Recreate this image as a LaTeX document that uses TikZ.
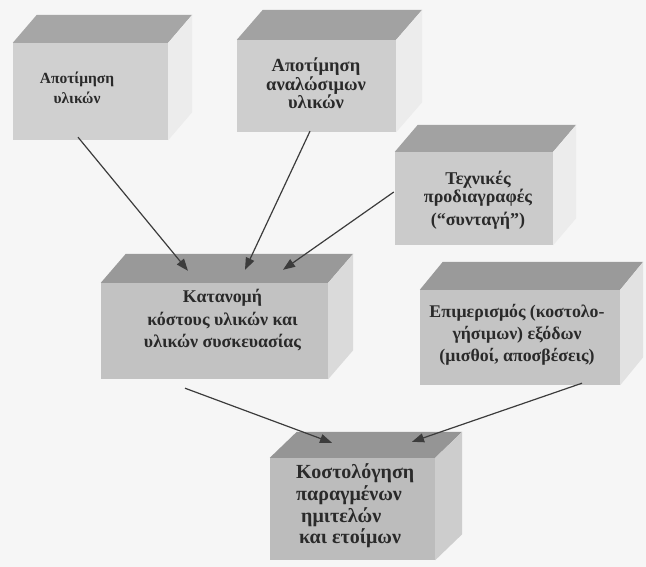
\documentclass[tikz,border=0pt]{standalone}
\usepackage{fontspec}
\setmainfont{Liberation Serif}
\usetikzlibrary{arrows.meta,calc}

\definecolor{paper}{HTML}{F6F6F6}
\definecolor{ink}{HTML}{2A2A2A}
\definecolor{wire}{HTML}{3C3C3C}
% face shades
\definecolor{frontA}{HTML}{D0D0D0}
\definecolor{frontB}{HTML}{CECECE}
\definecolor{frontC}{HTML}{CBCBCB}
\definecolor{frontD}{HTML}{C2C2C2}
\definecolor{frontE}{HTML}{C4C4C4}
\definecolor{frontF}{HTML}{BCBCBC}
\definecolor{topA}{HTML}{A6A6A6}
\definecolor{topB}{HTML}{A2A2A2}
\definecolor{topD}{HTML}{999999}
\definecolor{topE}{HTML}{9A9A9A}
\definecolor{topF}{HTML}{959595}
\definecolor{sideA}{HTML}{ECECEC}
\definecolor{sideD}{HTML}{DADADA}
\definecolor{sideE}{HTML}{E2E2E2}
\definecolor{sideF}{HTML}{CDCDCD}

% draws the top and right faces behind a front-face node
\newcommand\cubefaces[5]{%
  \fill[#4] (#1.north west) -- ++(#2,#3) -- ($(#1.north east)+(#2,#3)$) -- (#1.north east) -- cycle;
  \fill[#5] (#1.north east) -- ++(#2,#3) -- ($(#1.south east)+(#2,#3)$) -- (#1.south east) -- cycle;
}

\tikzset{
  front/.style={fill=#1, draw=none, inner sep=0pt},
  caption/.style={text=ink, align=center, inner sep=0pt},
  flow/.style={draw=wire, line width=1.2pt, -{Triangle[length=12pt,width=9pt]}},
}

\begin{document}
\begin{tikzpicture}[x=1pt,y=-1pt]
\fill[paper] (0,0) rectangle (646,567);
\useasboundingbox (0,0) rectangle (646,567);

% front faces
\node[front=frontA, minimum width=155pt, minimum height=97pt] (mat) at (90.5,91.5) {};
\node[front=frontB, minimum width=159pt, minimum height=92pt] (cons) at (316.5,86) {};
\node[front=frontC, minimum width=158pt, minimum height=93pt] (spec) at (474,198.5) {};
\node[front=frontD, minimum width=227pt, minimum height=96pt] (alloc) at (214.5,331) {};
\node[front=frontE, minimum width=200pt, minimum height=95pt] (over) at (520,337.5) {};
\node[front=frontF, minimum width=165pt, minimum height=102pt] (cost) at (352.5,509) {};

% top and side faces
\cubefaces{mat}{24}{-28}{topA}{sideA}
\cubefaces{cons}{26}{-30}{topB}{sideA}
\cubefaces{spec}{23}{-27}{topB}{sideA}
\cubefaces{alloc}{25}{-29}{topD}{sideD}
\cubefaces{over}{23}{-28}{topE}{sideE}
\cubefaces{cost}{27}{-26}{topF}{sideF}

% captions
\node[caption, font=\bfseries\fontsize{15.5}{20}\selectfont] (matt) at (77,88) {Αποτίμηση\\υλικών};
\node[caption, font=\bfseries\fontsize{18.5}{18.5}\selectfont] (const) at (316,83.5) {Αποτίμηση\\αναλώσιμων\\υλικών};
\node[caption, font=\bfseries\fontsize{18}{18.5}\selectfont] (spect) at (478,200) {Τεχνικές\\προδιαγραφές\\[4pt](“συνταγή”)};
\node[caption, font=\bfseries\fontsize{17.9}{22.5}\selectfont] (alloct) at (222.5,320.5) {Κατανομή\\κόστους υλικών και\\υλικών συσκευασίας};
\node[caption, font=\bfseries\fontsize{17.8}{22}\selectfont] (overt) at (517,335) {Επιμερισμός (κοστολο-\\γήσιμων) εξόδων\\(μισθοί, αποσβέσεις)};
\node[caption, align=left, anchor=west, font=\bfseries\fontsize{20}{21.7}\selectfont] (costt) at (296,506) {Κοστολόγηση\\παραγμένων\\\hspace*{5pt}ημιτελών\\\hspace*{3pt}και ετοίμων};

% connectors
\draw[flow] ($(mat.south)+(-12.5,-3)$) -- ($(alloc.north)+(-26.5,-12)$);
\draw[flow] ($(cons.south)+(-6.5,-1)$) -- ($(alloc.north)+(30.5,-13)$);
\draw[flow] ($(spec.west)+(-1,-6.5)$) -- ($(alloc.north)+(68.5,-13)$);
\draw[flow] ($(alloc.south)+(-29.5,9)$) -- ($(cost.north)+(-20.5,-15)$);
\draw[flow] ($(over.south)+(62,-2)$) -- ($(cost.north)+(59.5,-16)$);
\end{tikzpicture}
\end{document}
